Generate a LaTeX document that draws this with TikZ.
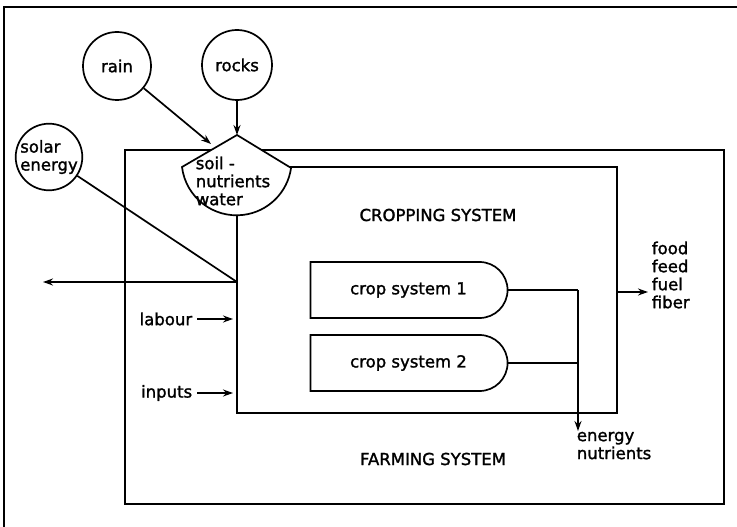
\documentclass[tikz,border=0pt]{standalone}
\usepackage{fontspec}
\setmainfont[FakeBold=1.5]{DejaVu Sans}
\usetikzlibrary{arrows.meta,shapes.misc}

\begin{document}
\begin{tikzpicture}[
        x=1pt, y=-1pt,
        line width=1.7pt,
        font=\fontsize{16.5}{18}\selectfont,
        source/.style={draw, circle, inner sep=0pt, align=left},
        sysbox/.style={draw, rectangle, inner sep=0pt},
        cropbox/.style={draw, rounded rectangle, rounded rectangle left arc=none,
            minimum width=197, minimum height=56, inner sep=0pt},
        label/.style={inner sep=0pt, align=left},
        arrow/.style={-{Stealth[length=10pt, width=7pt]}}
    ]
        \useasboundingbox (0,0) rectangle (737,527);
        \draw (4,527) -- (4,7) -- (737,7);

        % outside sources
        \foreach \name/\pos/\size in {rain/{117,66}/68, rocks/{237,65}/70} {
            \node[source, minimum size=\size] (\name) at (\pos) {\name};
        }
        \node[source, minimum size=61] (solar) at (49,157) {solar\\energy};

        % the two systems
        \node[sysbox, minimum width=599, minimum height=354] (farm) at (424.5,327) {};
        \node[sysbox, minimum width=380, minimum height=246] (cropsys) at (427,290) {};
        \node[label] (croplabel) at (438,215) {CROPPING SYSTEM};
        \node[label] (farmlabel) at (433,459) {FARMING SYSTEM};

        % soil storage
        \coordinate (soil-top) at (237,135);
        \coordinate (soil-in) at (211,144);
        \coordinate (soil-out) at (237,215);
        \draw[fill=white] (soil-top) -- (182,167)
            arc[start angle=173, end angle=8, radius=55] -- cycle;
        \node[label] (soil) at (233,181) {soil -\\nutrients\\water};

        \draw[arrow] (rain) -- (soil-in);
        \draw[arrow] (rocks) -- (soil-top);

        % sun and heat sink
        \coordinate (corner) at (237,282);
        \coordinate (sink) at (43,282);
        \draw (solar) -- (corner);
        \draw[arrow] (corner) -- (sink);

        % human inputs
        \foreach \name/\y in {labour/319, inputs/393} {
            \node[label, anchor=east] (\name) at (193,\y) {\name};
            \draw[arrow] (\name.east) ++(4,0) -- ++(36,0);
        }

        % crop systems
        \node[cropbox] (crop1) at (408.5,290) {crop system 1};
        \node[cropbox] (crop2) at (408.5,363) {crop system 2};

        \coordinate (tap) at (578,290);
        \node[label, anchor=north west] (residue) at (576,431) {energy\\nutrients};
        \draw (crop1.east) -- (tap);
        \draw (crop2.east) -- (crop2.east -| tap);
        \draw[arrow] (tap) -- (residue.north -| tap);

        % harvest
        \node[label, anchor=west] (harvest) at (651,275) {food\\feed\\fuel\\fiber};
        \coordinate (out) at (648,292);
        \draw[arrow] (cropsys.east |- out) -- (out);
    \end{tikzpicture}
\end{document}
